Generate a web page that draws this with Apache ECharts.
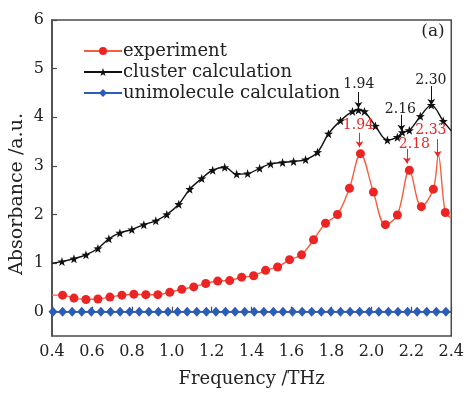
<!DOCTYPE html>
<html><head><meta charset="utf-8">
<script src="https://cdn.jsdelivr.net/npm/echarts@6/dist/echarts.min.js"></script>
<style>html,body{margin:0;padding:0;background:#fff}#c{width:467px;height:393px}</style>
</head><body><div id="c"></div>
<script>
// ---- data ----
const expFreq = [0.40,0.453,0.51,0.57,0.63,0.69,0.75,0.81,0.87,0.93,0.99,1.05,1.11,1.17,1.23,1.29,1.35,1.41,1.47,1.53,1.59,1.65,1.71,1.77,1.83,1.89,1.945,2.01,2.07,2.13,2.19,2.25,2.31,2.335,2.37,2.40];
const expAbs  = [0.34,0.34,0.28,0.25,0.26,0.30,0.34,0.36,0.35,0.35,0.40,0.46,0.51,0.58,0.63,0.64,0.71,0.74,0.85,0.92,1.07,1.17,1.48,1.82,2.00,2.54,3.25,2.46,1.79,1.99,2.91,2.16,2.52,3.22,2.04,1.93];
const expNoMarker = [0.40,2.335,2.40];

const clusterFreq = [0.40,0.45,0.51,0.57,0.63,0.685,0.74,0.80,0.86,0.92,0.975,1.035,1.09,1.15,1.205,1.265,1.325,1.38,1.44,1.495,1.555,1.61,1.67,1.73,1.785,1.845,1.905,1.935,1.965,2.02,2.08,2.13,2.155,2.19,2.245,2.30,2.36,2.40];
const clusterAbs  = [1.00,1.03,1.09,1.17,1.30,1.50,1.62,1.69,1.79,1.87,2.00,2.21,2.52,2.74,2.91,2.97,2.83,2.84,2.95,3.04,3.07,3.09,3.13,3.28,3.66,3.93,4.12,4.15,4.12,3.82,3.53,3.59,3.69,3.73,4.02,4.25,3.92,3.72];
const clusterNoMarker = [0.40,2.40];

const uniFreq = [0.405,0.453,0.501,0.549,0.597,0.645,0.693,0.741,0.789,0.837,0.885,0.933,0.981,1.029,1.077,1.125,1.173,1.221,1.269,1.317,1.365,1.413,1.461,1.509,1.557,1.605,1.653,1.701,1.749,1.797,1.845,1.893,1.941,1.989,2.037,2.085,2.133,2.181,2.229,2.277,2.325,2.373];
const uniAbs  = [0,0,0,0,0,0,0,0,0,0,0,0,0,0,0,0,0,0,0,0,0,0,0,0,0,0,0,0,0,0,0,0,0,0,0,0,0,0,0,0,0,0];

const xTicks = [0.4,0.6,0.8,1.0,1.2,1.4,1.6,1.8,2.0,2.2,2.4];
const yTicks = [0,1,2,3,4,5,6];

// peak annotations
const clusterPeakText = ['1.94','2.16','2.30'];
const clusterTextX = [1.937,2.145,2.298];
const clusterTextY = [4.67,4.17,4.76];
const clusterArrowX = [1.935,2.15,2.30];
const clusterArrowFrom = [4.52,4.05,4.64];
const clusterArrowTo = [4.19,3.72,4.25];

const expPeakText = ['1.94','2.18','2.33'];
const expTextX = [1.935,2.215,2.298];
const expTextY = [3.83,3.44,3.72];
const expArrowX = [1.94,2.178,2.332];
const expArrowFrom = [3.68,3.35,3.55];
const expArrowTo = [3.38,3.05,3.18];

// ---- build ----
const SERIF = 'DejaVu Serif';
const STAR = 'path://M0,-10 L2.35,-3.24 L9.51,-3.09 L3.8,1.24 L5.88,8.09 L0,4 L-5.88,8.09 L-3.8,1.24 L-9.51,-3.09 L-2.35,-3.24 Z';
const RED_LINE = '#f3603f', RED_DOT = '#ec2424', BLACK = '#111111', BLUE = '#2b5cb8';

function pts(xs, ys, hide) {
  return xs.map((x, i) => hide.indexOf(x) >= 0 ? {value: [x, ys[i]], symbol: 'none'} : [x, ys[i]]);
}
function labels(txt, xs, ys, color) {
  return {
    symbol: 'circle', symbolSize: 0, silent: true, animation: false,
    label: {show: true, position: 'inside', formatter: '{b}', color: color, fontFamily: SERIF, fontSize: 14},
    data: txt.map((t, i) => ({name: t, coord: [xs[i], ys[i]]}))
  };
}
function arrows(xs, from, to, color) {
  return {
    symbol: ['none', 'arrow'], symbolSize: 6, silent: true, animation: false,
    label: {show: false},
    lineStyle: {color: color, width: 1, type: 'solid'},
    emphasis: {disabled: true},
    data: xs.map((x, i) => [{coord: [x, from[i]]}, {coord: [x, to[i]]}])
  };
}

const chart = echarts.init(document.getElementById('c'), null, {renderer: 'canvas'});
chart.setOption({
  animation: false,
  backgroundColor: '#fff',
  grid: {left: 52, right: 15, top: 20, bottom: 50, show: true, borderColor: '#4a4a4a', borderWidth: 1.5, backgroundColor: 'transparent'},
  legend: {
    orient: 'vertical', left: 78, top: 37, itemWidth: 38, itemHeight: 10, itemGap: 3,
    textStyle: {fontFamily: SERIF, fontSize: 18, lineHeight: 16, color: '#222', padding: [0, 0, 0, -4]},
    data: ['experiment', 'cluster calculation', 'unimolecule calculation']
  },
  xAxis: {
    type: 'value', min: 0.4, max: 2.4, interval: 0.2,
    axisLine: {lineStyle: {color: '#4a4a4a', width: 1.5}},
    axisTick: {inside: true, length: 5, lineStyle: {color: '#4a4a4a', width: 1.2}},
    axisLabel: {margin: 8, color: '#222', fontFamily: SERIF, fontSize: 16, formatter: v => v.toFixed(1)},
    splitLine: {show: false},
    name: 'Frequency /THz', nameLocation: 'middle', nameGap: 34,
    nameTextStyle: {fontFamily: SERIF, fontSize: 18, color: '#222'}
  },
  yAxis: {
    type: 'value', min: -0.5, max: 6,
    axisLine: {lineStyle: {color: '#4a4a4a', width: 1.5}},
    axisTick: {inside: true, length: 5, lineStyle: {color: '#4a4a4a', width: 1.2}, customValues: yTicks},
    axisLabel: {margin: 8, color: '#222', fontFamily: SERIF, fontSize: 16, customValues: yTicks},
    splitLine: {show: false}
  },
  graphic: [
    {type: 'text', x: 17, y: 194, rotation: Math.PI / 2,
     style: {text: 'Absorbance /a.u.', fill: '#222', font: '19px "DejaVu Serif"', align: 'center', verticalAlign: 'middle'}},
    {type: 'text', x: 433, y: 32,
     style: {text: '(a)', fill: '#222', font: '17px "DejaVu Serif"', align: 'center', verticalAlign: 'middle'}}
  ],
  series: [
    {
      name: 'experiment', type: 'line', smooth: 0.35,
      data: pts(expFreq, expAbs, expNoMarker),
      symbol: 'circle', symbolSize: 9,
      itemStyle: {color: RED_DOT},
      lineStyle: {color: RED_LINE, width: 1.4},
      markPoint: labels(expPeakText, expTextX, expTextY, RED_DOT),
      markLine: arrows(expArrowX, expArrowFrom, expArrowTo, RED_DOT),
      z: 3
    },
    {
      name: 'cluster calculation', type: 'line', smooth: 0.35,
      data: pts(clusterFreq, clusterAbs, clusterNoMarker),
      symbol: STAR, symbolSize: 9,
      itemStyle: {color: BLACK},
      lineStyle: {color: BLACK, width: 1.4},
      markPoint: labels(clusterPeakText, clusterTextX, clusterTextY, '#222'),
      markLine: arrows(clusterArrowX, clusterArrowFrom, clusterArrowTo, BLACK),
      z: 2
    },
    {
      name: 'unimolecule calculation', type: 'line',
      data: pts(uniFreq, uniAbs, []),
      symbol: 'diamond', symbolSize: [9, 10],
      itemStyle: {color: BLUE},
      lineStyle: {color: BLUE, width: 1.4},
      z: 2
    }
  ]
});
</script></body></html>
